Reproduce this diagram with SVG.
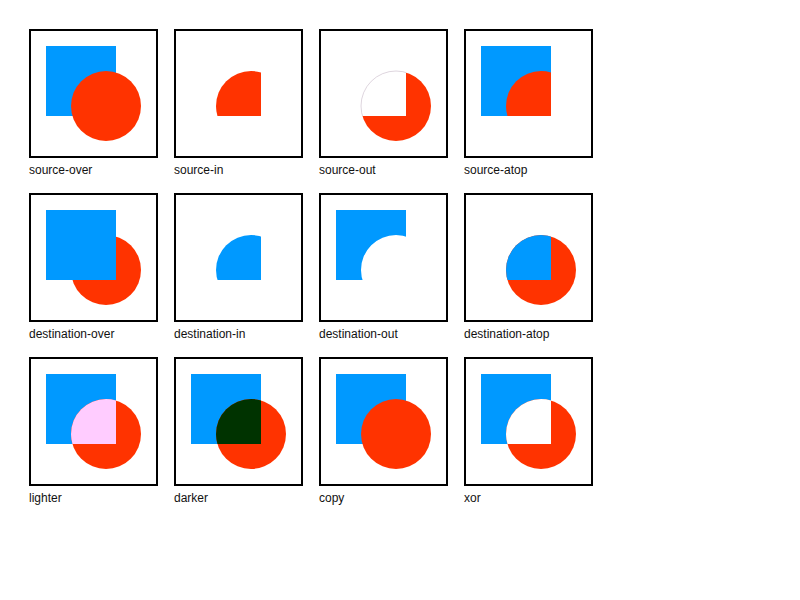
<svg xmlns="http://www.w3.org/2000/svg" width="800" height="600" viewBox="0 0 800 600">
<style>
.frame{fill:none;stroke:#000;stroke-width:2}
.sq{fill:#0099FF}
.ci{fill:#FF3300}
.lbl{font-family:"Liberation Sans",Arial,sans-serif;font-size:12px;fill:#111}
</style>
<defs>
<clipPath id="inSq"><rect x="16" y="16" width="70" height="70"/></clipPath>
<clipPath id="outSq"><path clip-rule="evenodd" d="M-5,-5H132V132H-5Z M16,16H86V86H16Z"/></clipPath>
<clipPath id="inCi"><circle cx="76" cy="76" r="35"/></clipPath>
<clipPath id="outCi"><path clip-rule="evenodd" d="M-5,-5H132V132H-5Z M41,76A35,35 0 1,0 111,76A35,35 0 1,0 41,76Z"/></clipPath>
<rect id="S" x="16" y="16" width="70" height="70"/>
<circle id="C" cx="76" cy="76" r="35"/>
</defs>
<rect width="800" height="600" fill="#fff"/>

<g id="source-over" transform="translate(30,30)">
<rect class="frame" width="127" height="127"/>
<use href="#S" class="sq"/><use href="#C" class="ci"/>
<text class="lbl" x="-1" y="144">source-over</text>
</g>
<g id="source-in" transform="translate(175,30)">
<rect class="frame" width="127" height="127"/>
<use href="#C" class="ci" clip-path="url(#inSq)"/>
<text class="lbl" x="-1" y="144">source-in</text>
</g>
<g id="source-out" transform="translate(320,30)">
<rect class="frame" width="127" height="127"/>
<use href="#C" class="ci" clip-path="url(#outSq)"/>
<circle cx="76" cy="76" r="35" fill="none" stroke="#c8b8c8" stroke-width="0.6" clip-path="url(#inSq)"/>
<text class="lbl" x="-1" y="144">source-out</text>
</g>
<g id="source-atop" transform="translate(465,30)">
<rect class="frame" width="127" height="127"/>
<use href="#S" class="sq"/><use href="#C" class="ci" clip-path="url(#inSq)"/>
<text class="lbl" x="-1" y="144">source-atop</text>
</g>

<g id="destination-over" transform="translate(30,194)">
<rect class="frame" width="127" height="127"/>
<use href="#C" class="ci"/><use href="#S" class="sq"/>
<text class="lbl" x="-1" y="144">destination-over</text>
</g>
<g id="destination-in" transform="translate(175,194)">
<rect class="frame" width="127" height="127"/>
<use href="#S" class="sq" clip-path="url(#inCi)"/>
<text class="lbl" x="-1" y="144">destination-in</text>
</g>
<g id="destination-out" transform="translate(320,194)">
<rect class="frame" width="127" height="127"/>
<use href="#S" class="sq" clip-path="url(#outCi)"/>
<text class="lbl" x="-1" y="144">destination-out</text>
</g>
<g id="destination-atop" transform="translate(465,194)">
<rect class="frame" width="127" height="127"/>
<use href="#C" class="ci"/><use href="#S" class="sq" clip-path="url(#inCi)"/>
<text class="lbl" x="-1" y="144">destination-atop</text>
</g>

<g id="lighter" transform="translate(30,358)">
<rect class="frame" width="127" height="127"/>
<use href="#S" class="sq"/><use href="#C" class="ci"/>
<use href="#C" fill="#FFCCFF" clip-path="url(#inSq)"/>
<text class="lbl" x="-1" y="144">lighter</text>
</g>
<g id="darker" transform="translate(175,358)">
<rect class="frame" width="127" height="127"/>
<use href="#S" class="sq"/><use href="#C" class="ci"/>
<use href="#C" fill="#003300" clip-path="url(#inSq)"/>
<text class="lbl" x="-1" y="144">darker</text>
</g>
<g id="copy" transform="translate(320,358)">
<rect class="frame" width="127" height="127"/>
<use href="#S" class="sq"/><use href="#C" class="ci"/>
<text class="lbl" x="-1" y="144">copy</text>
</g>
<g id="xor" transform="translate(465,358)">
<rect class="frame" width="127" height="127"/>
<use href="#S" class="sq"/><use href="#C" class="ci"/>
<use href="#C" fill="#fff" clip-path="url(#inSq)"/>
<text class="lbl" x="-1" y="144">xor</text>
</g>
</svg>
